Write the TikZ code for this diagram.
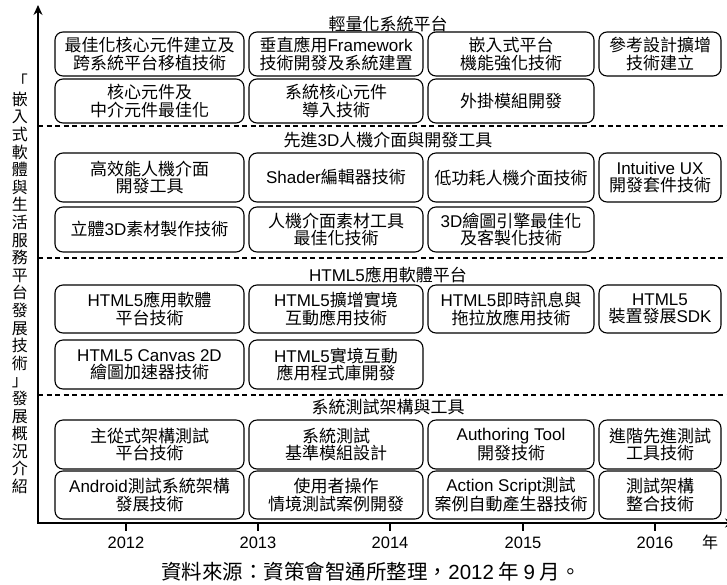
\documentclass[tikz,border=0pt]{standalone}
\usepackage{fontspec}
\setmainfont{Noto Sans CJK TC}
\newfontfamily\latf{Liberation Sans}
\newcommand\lat[1]{{\latf #1}}
\usetikzlibrary{arrows.meta}
\newcommand\boxfont{\fontsize{17}{17.5}\selectfont}
\newcommand\bx[6]{%
  \node[box, minimum width={#3-#2}, minimum height={#5-#4}] (#1) at ({(#2+#3)/2},{(#4+#5)/2}) {#6};}
\begin{document}
\begin{tikzpicture}[x=1pt,y=-1pt,
  box/.style={draw, rounded corners=8pt, line width=1.1pt, align=center, inner sep=0pt, font=\boxfont},
  sectitle/.style={font=\fontsize{17}{17.5}\selectfont, inner sep=0pt},
  sep/.style={dashed, dash pattern=on 5pt off 3.5pt, line width=1.1pt},
  axis/.style={line width=1.2pt},
  tick/.style={line width=1.2pt},
  yearlab/.style={font=\fontsize{16.5}{17}\selectfont, inner sep=0pt}]
\useasboundingbox (0,0) rectangle (727,584);
% columns: c1 55-244, c2 249-423, c3 428-594, c4 599-721
% Section 1
\node[sectitle] (t1) at (388,24) {輕量化系統平台};
\bx{a1}{55}{244}{32}{76}{最佳化核心元件建立及\\跨系統平台移植技術}
\bx{a2}{249}{423}{32}{76}{垂直應用\lat{Framework}\\技術開發及系統建置}
\bx{a3}{428}{594}{32}{76}{嵌入式平台\\機能強化技術}
\bx{a4}{599}{721}{32}{76}{參考設計擴增\\技術建立}
\bx{a5}{55}{244}{79}{123}{核心元件及\\中介元件最佳化}
\bx{a6}{249}{423}{79}{123}{系統核心元件\\導入技術}
\bx{a7}{428}{594}{79}{123}{外掛模組開發}
\coordinate (d1l) at (38,126); \coordinate (d1r) at (727,126);
\draw[sep] (d1l) -- (d1r);
% Section 2
\node[sectitle] (t2) at (388,140) {先進\lat{3D}人機介面與開發工具};
\bx{b1}{55}{244}{153}{202}{高效能人機介面\\開發工具}
\bx{b2}{249}{423}{153}{202}{\lat{Shader}編輯器技術}
\bx{b3}{428}{594}{153}{202}{低功耗人機介面技術}
\bx{b4}{599}{721}{153}{202}{\lat{Intuitive UX}\\開發套件技術}
\bx{b5}{55}{244}{207}{252}{立體\lat{3D}素材製作技術}
\bx{b6}{249}{423}{207}{252}{人機介面素材工具\\最佳化技術}
\bx{b7}{428}{594}{207}{252}{\lat{3D}繪圖引擎最佳化\\及客製化技術}
\coordinate (d2l) at (38,258); \coordinate (d2r) at (727,258);
\draw[sep] (d2l) -- (d2r);
% Section 3
\node[sectitle] (t3) at (388,275) {\lat{HTML5}應用軟體平台};
\bx{c1}{55}{244}{285}{333}{\lat{HTML5}應用軟體\\平台技術}
\bx{c2}{249}{423}{285}{333}{\lat{HTML5}擴增實境\\互動應用技術}
\bx{c3}{428}{594}{285}{333}{\lat{HTML5}即時訊息與\\拖拉放應用技術}
\bx{c4}{599}{721}{285}{333}{\lat{HTML5}\\裝置發展\lat{SDK}}
\bx{c5}{55}{244}{340}{389}{\lat{HTML5 Canvas 2D}\\繪圖加速器技術}
\bx{c6}{249}{423}{340}{389}{\lat{HTML5}實境互動\\應用程式庫開發}
\coordinate (d3l) at (38,395); \coordinate (d3r) at (727,395);
\draw[sep] (d3l) -- (d3r);
% Section 4
\node[sectitle] (t4) at (388,407) {系統測試架構與工具};
\bx{e1}{55}{244}{420}{469}{主從式架構測試\\平台技術}
\bx{e2}{249}{423}{420}{469}{系統測試\\基準模組設計}
\bx{e3}{428}{594}{420}{469}{\lat{Authoring Tool}\\開發技術}
\bx{e4}{599}{721}{420}{469}{進階先進測試\\工具技術}
\bx{e5}{55}{244}{471}{519}{\lat{Android}測試系統架構\\發展技術}
\bx{e6}{249}{423}{471}{519}{使用者操作\\情境測試案例開發}
\bx{e7}{428}{594}{471}{519}{\lat{Action Script}測試\\案例自動產生器技術}
\bx{e8}{599}{721}{471}{519}{測試架構\\整合技術}
% axes
\coordinate (ytop) at (38,5);
\coordinate (orig) at (38,523);
\coordinate (xend) at (735,523);
\draw[axis, {Stealth[length=10pt,width=9pt]}-{Stealth[length=10pt,width=9pt]}] (ytop) -- (orig) -- (xend);
\foreach \xx/\yr in {126/2012,258/2013,390/2014,523/2015,655/2016}{
  \coordinate (tk\yr) at (\xx,523);
  \coordinate (tb\yr) at (\xx,531);
  \draw[tick] (tk\yr) -- (tb\yr);
  \node[yearlab] (yl\yr) at (\xx,543) {\lat{\yr}};
}
\node[yearlab, font=\fontsize{16}{17}\selectfont] (nian) at (710,542) {年};
% vertical label
\node[inner sep=0pt, align=center, font=\fontsize{16}{17.6}\selectfont] (vlab) at (20,284)
  {「\\嵌\\入\\式\\軟\\體\\與\\生\\活\\服\\務\\平\\台\\發\\展\\技\\術\\」\\發\\展\\概\\況\\介\\紹};
% caption
\node[inner sep=0pt, font=\fontsize{20.5}{22}\selectfont] (cap) at (371,572)
  {資料來源：資策會智通所整理，\lat{2012} 年 \lat{9} 月。};
\end{tikzpicture}
\end{document}
